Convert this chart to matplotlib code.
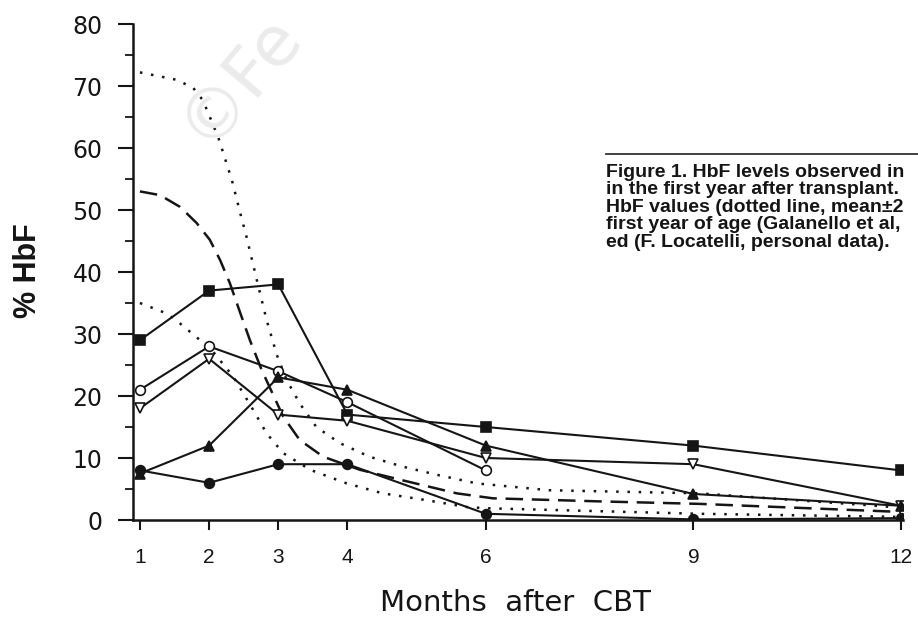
import matplotlib
matplotlib.use("Agg")
import matplotlib.pyplot as plt
from matplotlib.lines import Line2D
from matplotlib.ticker import MultipleLocator

# patient series (months after CBT -> % HbF)
months = [1, 2, 3, 4, 6, 9, 12]
pt_squares = [29, 37, 38, 17, 15, 12, 8]
pt_open_circles = [21, 28, 24, 19, 8]          # followed up to month 6
pt_down_tri = [18, 26, 17, 16, 10, 9, 2.3]
pt_up_tri = [7.5, 12, 23, 21, 12, 4.2, 2.3]
pt_dots = [8, 6, 9, 9, 1, 0.1, 0.3]

# normal HbF reference curves
upper_x = [1, 1.53, 1.77, 1.91, 2.13, 2.33, 2.45, 2.54, 2.69, 2.83, 2.98, 3.12,
           3.31, 3.55, 3.89, 4.32, 4.80, 5.29, 5.87, 6.92, 9.09, 12]
upper_y = [72.2, 71, 69.7, 67.7, 61.8, 54.8, 49.5, 45.7, 38.7, 32.3, 26.6, 22.6,
           18.8, 15.0, 12.4, 10.2, 8.6, 7.3, 5.9, 4.8, 4.3, 2.0]
mean_x = [1, 1.29, 1.58, 1.82, 2.01, 2.16, 2.30, 2.45, 2.59, 2.76, 3.07, 3.31,
          3.65, 4.18, 4.76, 5.58, 6.10, 7.65, 9.09, 12]
mean_y = [53, 52.4, 50.5, 47.9, 45.2, 41.9, 38.2, 33.4, 29.0, 24.2, 16.7, 12.9,
          10.2, 8.1, 6.5, 4.3, 3.5, 3.0, 2.6, 1.3]
lower_x = [1, 1.39, 1.58, 1.87, 1.96, 2.35, 2.64, 2.83, 3.07, 3.46, 3.99, 4.51,
           5.14, 5.72, 6.0, 9.09, 12]
lower_y = [35, 33.3, 31.7, 29, 28.5, 23.1, 17.7, 14, 10.8, 8.1, 5.9, 4.3,
           3.2, 2.1, 1.9, 1.0, 0.5]

caption = [
    "Figure 1. HbF levels observed in",
    "in the first year after transplant.",
    "HbF values (dotted line, mean\u00b12",
    "first year of age (Galanello et al,",
    "ed (F. Locatelli, personal data).",
]

W, H = 918, 622
ink = "#151515"

fig = plt.figure(figsize=(W / 100, H / 100), dpi=100)
ax = fig.add_axes([133 / W, 1 - 520 / H, (903 - 133) / W, (520 - 24) / H])

# reference curves
ax.plot(upper_x, upper_y, color=ink, lw=1.8, linestyle=(0, (1, 3.5)))
ax.plot(lower_x, lower_y, color=ink, lw=1.8, linestyle=(0, (1, 3.5)))
ax.plot(mean_x, mean_y, color=ink, lw=1.8, linestyle=(0, (7, 3.5)))

# patients
common = dict(color=ink, lw=1.5, markersize=7, markeredgewidth=1.2)
ax.plot(months, pt_squares, marker="s", markerfacecolor=ink, **common)
ax.plot(months[:5], pt_open_circles, marker="o", markerfacecolor="white", **common)
ax.plot(months, pt_down_tri, marker="v", markerfacecolor="white", **common)
ax.plot(months, pt_up_tri, marker="^", markerfacecolor=ink, **common)
ax.plot(months, pt_dots, marker="o", markerfacecolor=ink, **common)

ax.set_xlim(0.9, 12.03)
ax.set_ylim(0, 80)
for side in ("top", "right"):
    ax.spines[side].set_visible(False)
for side in ("left", "bottom"):
    ax.spines[side].set_linewidth(1.8)
    ax.spines[side].set_color(ink)

ax.yaxis.set_major_locator(MultipleLocator(10))
ax.yaxis.set_minor_locator(MultipleLocator(5))
ax.set_xticks(months)
ax.tick_params(axis="y", which="major", length=11, width=1.5, pad=11,
               labelsize=17, colors=ink)
ax.tick_params(axis="y", which="minor", length=6, width=1.3, colors=ink)
ax.tick_params(axis="x", which="major", length=7, width=1.5, pad=13,
               labelsize=15, colors=ink)
for lbl in ax.get_xticklabels():
    lbl.set_fontfamily("Liberation Sans")
for lbl in ax.get_yticklabels():
    lbl.set_fontfamily("DejaVu Sans")

fig.text(28 / W, 1 - 271 / H, "% HbF", rotation=90, ha="center", va="center",
         fontsize=22, fontweight="bold", family="Liberation Sans", color=ink)
fig.text(515 / W, 1 - 603 / H, "Months  after  CBT", ha="center", va="center",
         fontsize=21, family="DejaVu Sans", color=ink)

# faint watermark
fig.text(192 / W, 1 - 136 / H, "\u00a9Fe", rotation=50, rotation_mode="anchor",
         ha="left", va="center", fontsize=50, color="#ebebeb", zorder=0,
         family="DejaVu Sans")

# caption block from the page, cut at the right edge
fig.add_artist(Line2D([606 / W, 1], [1 - 154 / H] * 2, color="#333333", lw=1.3))
for i, line in enumerate(caption):
    fig.text(606 / W, 1 - (177 + i * 17.5) / H, line, ha="left", va="baseline",
             fontsize=14, fontweight="bold", family="Liberation Sans", color=ink)

fig.savefig("out.png", dpi=100)
